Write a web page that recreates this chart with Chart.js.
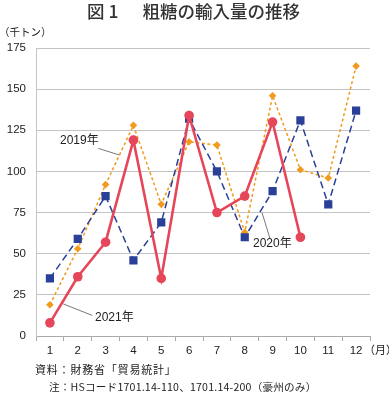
<!DOCTYPE html>
<html><head><meta charset="utf-8">
<script src="https://cdn.jsdelivr.net/npm/chart.js@4/dist/chart.umd.min.js"></script>
<style>
html,body{margin:0;padding:0;background:#fff;}
#wrap{position:relative;width:389px;height:395px;overflow:hidden;font-family:"Noto Sans CJK JP","Noto Sans",sans-serif;color:#222;}
#c{position:absolute;left:0;top:0;}
.t{position:absolute;white-space:nowrap;line-height:1;}
.a{font-size:12px;font-family:'Liberation Sans','Noto Sans CJK JP',sans-serif;}
.a span{font-family:'Noto Sans CJK JP';}
</style></head><body>
<div id="wrap">
<canvas id="c" width="389" height="395"></canvas>
<div class="t" style="left:87px;top:2px;font-size:17.5px;font-weight:500;color:#333;">図 1<span style="margin-left:24px;">粗糖の輸入量の推移</span></div>
<div class="t" style="left:-1px;top:27px;font-size:10.5px;">（千トン）</div>
<div class="t" style="left:364px;top:344px;font-size:11px;">（月）</div>
<div class="t a" style="left:60px;top:133px;">2019<span>年</span></div>
<div class="t a" style="left:95px;top:310px;">2021<span>年</span></div>
<div class="t a" style="left:253px;top:236px;">2020<span>年</span></div>
<div class="t" style="left:35px;top:364px;font-size:11px;letter-spacing:0.8px;">資料：財務省「貿易統計」</div>
<div class="t" style="left:49px;top:382px;font-size:10.6px;letter-spacing:0.2px;">注：HSコード1701.14-110、1701.14-200（豪州のみ）</div>
</div>
<script>
const months = ['1','2','3','4','5','6','7','8','9','10','11','12'];
const yTicks = [0,25,50,75,100,125,150,175];
const v2019 = [19, 53, 92, 128, 80, 118, 116, 63, 146, 101, 96, 164];
const v2020 = [35, 59, 85, 46, 69, 132, 100, 60, 88, 131, 80, 137];
const v2021 = [8, 36, 57, 119, 35, 134, 75, 85, 130, 60, null, null];
// leader lines for labels, in data coordinates [index, value]
const leaders = [
  [[1.74,114],[2.49,110]],
  [[0.48,19.5],[1.52,12.5]],
  [[7.62,75],[7.91,59]]
];

const leaderPlugin = {
  id:'leaders',
  afterDatasetsDraw(chart){
    const ctx = chart.ctx, xs = chart.scales.x, ys = chart.scales.y;
    const px = i => xs.getPixelForValue(0) + i*(xs.getPixelForValue(1)-xs.getPixelForValue(0));
    ctx.save();
    ctx.strokeStyle = '#555'; ctx.lineWidth = 0.8;
    leaders.forEach(([a,b])=>{
      ctx.beginPath();
      ctx.moveTo(px(a[0]), ys.getPixelForValue(a[1]));
      ctx.lineTo(px(b[0]), ys.getPixelForValue(b[1]));
      ctx.stroke();
    });
    ctx.restore();
  }
};

new Chart(document.getElementById('c'), {
  type:'line',
  data:{
    labels: months,
    datasets:[
      {label:'2021年', data:v2021, borderColor:'#e6465a', backgroundColor:'#e6465a', borderWidth:2.6,
       pointStyle:'circle', pointRadius:4.8, pointBorderWidth:0, order:0, spanGaps:false},
      {label:'2020年', data:v2020, borderColor:'#2a3f98', backgroundColor:'#2a3f98', borderWidth:1.5,
       borderDash:[7,4], pointStyle:'rect', pointRadius:5.8, pointBorderWidth:0, order:1},
      {label:'2019年', data:v2019, borderColor:'#f29a1c', backgroundColor:'#f29a1c', borderWidth:1.5,
       borderDash:[3,2.5], pointStyle:'rectRot', pointRadius:3.8, pointBorderWidth:0, order:2}
    ]
  },
  options:{
    responsive:false, animation:false, devicePixelRatio:1,
    layout:{padding:{left:0, top:48, right:19, bottom:39}},
    plugins:{legend:{display:false}, tooltip:{enabled:false}, title:{display:false}},
    elements:{line:{tension:0}},
    scales:{
      x:{
        offset:true,
        grid:{offset:true, drawOnChartArea:false, drawTicks:true, tickLength:5, color:'#aaa'},
        border:{display:true, color:'#aaa'},
        ticks:{padding:3, color:'#222', font:{family:'Liberation Sans', size:11.5}, maxRotation:0, autoSkip:false},
        afterFit(s){ s.height = 20; }
      },
      y:{
        min:0, max:175,
        afterBuildTicks(s){ s.ticks = yTicks.map(v=>({value:v})); },
        grid:{color:'#c4c4c4', drawTicks:false, lineWidth:1},
        border:{display:true, color:'#c4c4c4'},
        ticks:{padding:10, color:'#222', font:{family:'Liberation Sans', size:11.5}},
        afterFit(s){ s.width = 36; }
      }
    }
  },
  plugins:[leaderPlugin]
});
</script>
</body></html>
